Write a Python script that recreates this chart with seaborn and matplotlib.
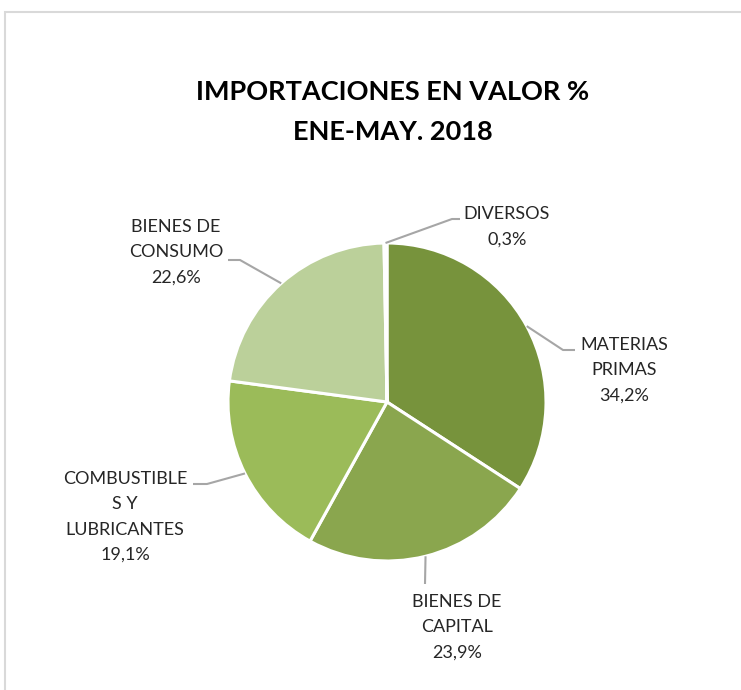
import numpy as np
import matplotlib
matplotlib.use("Agg")
import matplotlib.pyplot as plt
from matplotlib.patches import Rectangle
import seaborn as sns

categorias = ['MATERIAS\nPRIMAS', 'BIENES DE\nCAPITAL', 'COMBUSTIBLE\nS Y\nLUBRICANTES',
              'BIENES DE\nCONSUMO', 'DIVERSOS']
valores = [34.2, 23.9, 19.1, 22.6, 0.3]
colores = ['#77933C', '#8AA64E', '#9BBB59', '#BBD09A', '#D7E4BD']

# posiciones de etiquetas (pixeles) y codo de la linea guia
etiqueta_xy = [(624, 370), (457, 627), (125, 517), (176, 252), (507, 227)]
codo_xy = [(563, 350), (425, 584), (207, 484), (240, 260), (452, 219)]
fin_xy = [(575, 350), (425, 584), (193, 484), (228, 260), (460, 219)]

W, H = 741, 690
sns.set_theme(style="white")
plt.rcParams['font.family'] = ['Lato', 'DejaVu Sans']

fig = plt.figure(figsize=(W / 100, H / 100), dpi=100)
ax = fig.add_axes([0, 0, 1, 1])

# marco del grafico
fig.patches.append(Rectangle((5 / W, -0.1), 1.2, 1 - 12 / H + 0.1, transform=fig.transFigure,
                             fill=False, edgecolor='#D9D9D9', linewidth=1.5))

cx, cy, r = 387, H - 402, 159
wedges, _ = ax.pie(valores, colors=colores, startangle=90, counterclock=False,
                   center=(cx, cy), radius=r, frame=True,
                   wedgeprops=dict(edgecolor='white', linewidth=2.2))
ax.set_xlim(0, W)
ax.set_ylim(0, H)
ax.set_aspect('equal')
ax.axis('off')

for w, cat, val, lxy, cxy, fxy in zip(wedges, categorias, valores, etiqueta_xy, codo_xy, fin_xy):
    ang = np.deg2rad((w.theta1 + w.theta2) / 2)
    sx, sy = cx + r * np.cos(ang), cy + r * np.sin(ang)
    ax.plot([sx, cxy[0], fxy[0]], [sy, H - cxy[1], H - fxy[1]], color='#A6A6A6', lw=1.5,
            solid_capstyle='butt')
    txt = cat + '\n' + f'{val:.1f}'.replace('.', ',') + '%'
    ax.text(lxy[0], H - lxy[1], txt, ha='center', va='center', fontsize=13,
            color='#262626', linespacing=1.72)

ax.text(393, H - 112, 'IMPORTACIONES EN VALOR %\nENE-MAY. 2018', ha='center', va='center',
        fontsize=19.5, fontweight='bold', color='black', linespacing=1.75)

fig.savefig('out.png', dpi=100, facecolor='white')
